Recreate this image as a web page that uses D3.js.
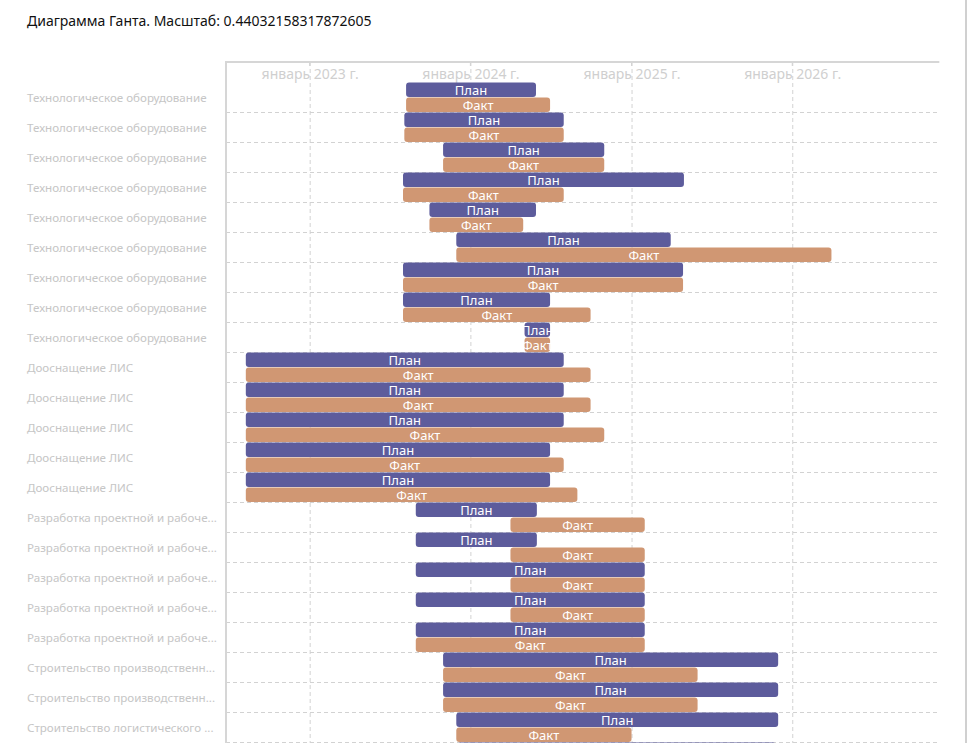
<!DOCTYPE html>
<html>
<head>
<meta charset="utf-8">
<script src="https://cdn.jsdelivr.net/npm/d3@7"></script>
<style>
  html, body { margin: 0; padding: 0; background: #fff; }
  svg { display: block; font-family: "Noto Sans", "Open Sans", sans-serif; }
</style>
</head>
<body>
<svg id="chart" width="968" height="743"></svg>
<script>
const title = "Диаграмма Ганта. Масштаб: 0.44032158317872605";
const pxPerDay = 0.44032158317872605;

const categories = [
  "Технологическое оборудование", "Технологическое оборудование", "Технологическое оборудование",
  "Технологическое оборудование", "Технологическое оборудование", "Технологическое оборудование",
  "Технологическое оборудование", "Технологическое оборудование", "Технологическое оборудование",
  "Дооснащение ЛИС", "Дооснащение ЛИС", "Дооснащение ЛИС", "Дооснащение ЛИС", "Дооснащение ЛИС",
  "Разработка проектной и рабоче...", "Разработка проектной и рабоче...", "Разработка проектной и рабоче...",
  "Разработка проектной и рабоче...", "Разработка проектной и рабоче...",
  "Строительство производственн...", "Строительство производственн...",
  "Строительство логистического ...", "Строительство логистического ..."
];

const planStart = [
  "2023-08-08", "2023-08-04", "2023-10-31", "2023-08-01", "2023-09-30", "2023-11-30",
  "2023-08-01", "2023-08-01", "2024-05-03",
  "2022-08-09", "2022-08-09", "2022-08-09", "2022-08-09", "2022-08-09",
  "2023-08-30", "2023-08-30", "2023-08-30", "2023-08-30", "2023-08-30",
  "2023-10-31", "2023-10-31", "2023-11-30", "2023-12-03"
];
const planEnd = [
  "2024-05-29", "2024-07-31", "2024-10-31", "2025-04-30", "2024-05-29", "2025-03-31",
  "2025-04-28", "2024-06-30", "2024-06-30",
  "2024-07-31", "2024-07-31", "2024-07-31", "2024-06-30", "2024-06-30",
  "2024-05-31", "2024-05-31", "2025-01-31", "2025-01-31", "2025-01-31",
  "2025-11-30", "2025-11-30", "2025-11-30", "2025-11-25"
];
const factStart = [
  "2023-08-08", "2023-08-04", "2023-10-31", "2023-08-01", "2023-09-30", "2023-11-30",
  "2023-08-01", "2023-08-01", "2024-05-03",
  "2022-08-09", "2022-08-09", "2022-08-09", "2022-08-09", "2022-08-09",
  "2024-04-01", "2024-04-01", "2024-04-01", "2024-04-01", "2023-08-30",
  "2023-10-31", "2023-10-31", "2023-11-30", "2023-12-03"
];
const factEnd = [
  "2024-06-30", "2024-07-31", "2024-10-31", "2024-07-31", "2024-04-30", "2026-03-31",
  "2025-04-28", "2024-09-30", "2024-06-30",
  "2024-09-30", "2024-09-30", "2024-10-31", "2024-07-31", "2024-08-31",
  "2025-01-31", "2025-01-31", "2025-01-31", "2025-01-31", "2025-01-31",
  "2025-05-31", "2025-05-31", "2025-01-01", "2025-01-01"
];

const tickDates = ["2023-01-01", "2024-01-01", "2025-01-01", "2026-01-01"];
const tickLabels = ["январь 2023 г.", "январь 2024 г.", "январь 2025 г.", "январь 2026 г."];
const domainDates = ["2022-06-25", "2026-12-01"];
const seriesNames = ["План", "Факт"];
const seriesColors = ["#5d5c9c", "#d09773"];

const parse = d3.timeParse("%Y-%m-%d");
const svg = d3.select("#chart");

const chartLeft = 226, chartTop = 62, headerH = 20.5, rowH = 30;
const d0 = parse(domainDates[0]), d1 = parse(domainDates[1]);
const spanDays = (d1 - d0) / 86400000;
const x = d3.scaleTime().domain([d0, d1]).range([chartLeft, chartLeft + spanDays * pxPerDay]);
const chartRight = x.range()[1];
const y = d3.scaleBand().domain(d3.range(categories.length))
  .range([chartTop + headerH, chartTop + headerH + rowH * categories.length]).padding(0);

// title
svg.append("text").attr("x", 27).attr("y", 26)
  .attr("font-size", 14).attr("fill", "#111").text(title);

// page right border
svg.append("line").attr("x1", 966).attr("x2", 966).attr("y1", 0).attr("y2", 743)
  .attr("stroke", "#d0d0d0").attr("stroke-width", 2);

// horizontal dashed row separators
svg.append("g").selectAll("line").data(d3.range(categories.length)).join("line")
  .attr("x1", chartLeft).attr("x2", chartRight)
  .attr("y1", i => Math.round(y(i) + rowH) - 0.5).attr("y2", i => Math.round(y(i) + rowH) - 0.5)
  .attr("stroke", "#d2d2d2").attr("stroke-dasharray", "4,3");

// vertical axis grid via d3 axis
const ticks = tickDates.map(parse);
const axis = d3.axisTop(x).tickValues(ticks)
  .tickFormat((d, i) => tickLabels[i])
  .tickSize(-(y.range()[1] - chartTop)).tickPadding(-16.5);
const gAxis = svg.append("g").attr("transform", `translate(0,${chartTop})`).call(axis);
gAxis.select(".domain").remove();
gAxis.selectAll(".tick line").attr("stroke", "#d2d2d2").attr("stroke-dasharray", "4,3");
gAxis.selectAll(".tick text").attr("fill", "#cfcfcf").attr("font-size", 14)
  .attr("font-family", "Noto Sans, sans-serif");
// small solid tick marks at top
svg.append("g").selectAll("line").data(ticks).join("line")
  .attr("x1", d => x(d)).attr("x2", d => x(d)).attr("y1", chartTop).attr("y2", chartTop + 4)
  .attr("stroke", "#d2d2d2");

// frame
svg.append("line").attr("x1", chartLeft).attr("x2", chartRight).attr("y1", chartTop).attr("y2", chartTop)
  .attr("stroke", "#d6d6d6").attr("stroke-width", 2);
svg.append("line").attr("x1", chartLeft).attr("x2", chartLeft).attr("y1", chartTop - 1).attr("y2", 743)
  .attr("stroke", "#d6d6d6").attr("stroke-width", 2);

// row labels
svg.append("g").selectAll("text").data(categories).join("text")
  .attr("x", 27).attr("y", (d, i) => y(i) + rowH / 2 + 4.5)
  .attr("font-size", 11.6).attr("fill", "#c6c6c6").text(d => d);

// bars
const rows = categories.map((c, i) => ({
  i,
  bars: [
    { s: parse(planStart[i]), e: parse(planEnd[i]), k: 0 },
    { s: parse(factStart[i]), e: parse(factEnd[i]), k: 1 }
  ]
}));
const gBars = svg.append("g");
rows.forEach(r => {
  r.bars.forEach(b => {
    const by = y(r.i) + b.k * 15;
    const bx = x(b.s), bw = x(b.e) - x(b.s);
    gBars.append("rect").attr("x", bx).attr("y", by).attr("width", bw).attr("height", 14.5)
      .attr("rx", 3).attr("ry", 3).attr("fill", seriesColors[b.k]);
    gBars.append("text").attr("x", bx + bw / 2).attr("y", by + 12)
      .attr("text-anchor", "middle").attr("font-size", 13).attr("fill", "#fff")
      .text(seriesNames[b.k]);
  });
});
</script>
</body>
</html>
